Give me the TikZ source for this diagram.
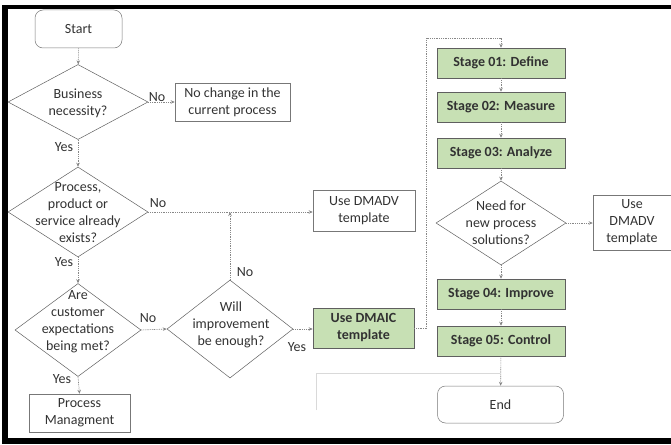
\documentclass[tikz,border=0pt]{standalone}
\usepackage{fontspec}
\setmainfont{Carlito}
\usetikzlibrary{shapes.geometric,arrows.meta}

\definecolor{stagegreen}{RGB}{199,224,180}
\definecolor{linegray}{RGB}{135,135,135}
\definecolor{edgegray}{RGB}{95,95,95}
\definecolor{textgray}{RGB}{50,50,50}

\tikzset{
  every node/.style={font=\fontsize{14}{17}\selectfont, text=textgray},
  box/.style={draw=edgegray!85, line width=0.5pt, inner sep=0pt, align=center},
  stagebox/.style={draw=edgegray, line width=0.5pt, fill=stagegreen, inner sep=0pt,
    minimum width=128pt, minimum height=30pt, font=\fontsize{14}{17}\selectfont\bfseries, align=center},
  terminal/.style={box, rounded corners=8pt},
  decision/.style={diamond, draw=edgegray, line width=0.5pt, inner sep=0pt},
  txt/.style={align=center, inner sep=0pt},
  conn/.style={draw=linegray, dash pattern=on 1pt off 0.8pt, line width=0.6pt},
  arr/.style={conn, -{Stealth[length=4pt,width=3.5pt]}},
  faint/.style={draw=black!15, line width=0.6pt},
  lbl/.style={inner sep=0pt}
}

\begin{document}
\begin{tikzpicture}[x=1pt,y=-1pt]
\useasboundingbox (0,0) rectangle (671,444);

% outer frame
\fill[black] (2,5) rectangle (8,444);
\fill[black] (2,5) rectangle (671,9);
\fill[black] (2,438) rectangle (671,444);

% left column
\node[terminal, minimum width=87pt, minimum height=38pt] (start) at (78.5,29) {Start};

\node[decision, minimum width=140pt, minimum height=75pt] (d1) at (78,102) {};
\node[txt] (d1t) at (78,103) {Business\\necessity?};
\node[box, minimum width=115pt, minimum height=38pt] (nochange) at (232.5,102) {No change in the\\current process};

\node[decision, minimum width=140pt, minimum height=90pt] (d2) at (78,212) {};
\node[txt] (d2t) at (78,213) {Process,\\product or\\service already\\exists?};
\node[box, minimum width=102pt, minimum height=41pt] (dmadv1) at (364,211) {Use DMADV\\template};

\node[decision, minimum width=126pt, minimum height=93pt] (d3) at (78,330) {};
\node[txt] (d3t) at (78,322) {Are\\customer\\expectations\\being met?};

\node[decision, minimum width=126pt, minimum height=98pt] (d4) at (230,329) {};
\node[txt] (d4t) at (231,325) {Will\\improvement\\be enough?};

\node[stagebox, minimum width=101pt, minimum height=40pt] (dmaic) at (363.5,328) {Use DMAIC\\template};

\node[box, minimum width=101pt, minimum height=38pt] (pm) at (79.5,413) {Process\\Managment};

% DMAIC stages
\node[stagebox] (define)  at (501,63)  {Stage 01: Define};
\node[stagebox] (measure) at (501,107) {Stage 02: Measure};
\node[stagebox] (analyze) at (501,153) {Stage 03: Analyze};
\node[decision, minimum width=130pt, minimum height=84pt] (d5) at (501,223) {};
\node[txt] (d5t) at (501,223) {Need for\\new process\\solutions?};
\node[box, minimum width=90pt, minimum height=55pt] (dmadv2) at (638,222.5) {};
\node[txt] (dmadv2t) at (632,222.5) {Use\\DMADV\\template};
\node[stagebox] (improve) at (501,294) {Stage 04: Improve};
\node[stagebox] (control) at (501,341) {Stage 05: Control};
\node[terminal, minimum width=126pt, minimum height=37pt] (end) at (500.5,404.5) {End};

% connectors
\draw[arr] (start) -- (d1);
\draw[arr] (d1.east) -- (nochange.west);
\draw[arr] (d1.south) -- (d2.north);
\draw[arr] (d2.east) -- (dmadv1.west |- d2.east);
\draw[arr] (d2.south) -- (d3.north);
\draw[arr] (d3.east) -- (d4.west);
\draw[arr] (d4.north) -- (d4.north |- d2.east);
\draw[arr] (d4.east) -- (dmaic.west |- d4.east);
\draw[arr] (d3.south) -- (pm.north);

\coordinate (loop) at (426,38);
\draw[arr] (dmaic.east) -| (loop) -| (define.north);
\draw[arr] (define) -- (measure);
\draw[arr] (measure) -- (analyze);
\draw[arr] (analyze) -- (d5);
\draw[arr] (d5.east) -- (dmadv2.west |- d5.east);
\draw[arr] (d5) -- (improve);
\draw[arr] (improve) -- (control);
\draw[arr] (control) -- (end);

\coordinate (f0) at (316,410);
\coordinate (f1) at (500,373);
\draw[faint] (f0) |- (f1);

% branch labels
\node[lbl] (l1n) at (157,97)  {No};
\node[lbl] (l1y) at (64,147)  {Yes};
\node[lbl] (l2n) at (158,203) {No};
\node[lbl] (l2y) at (64,262)  {Yes};
\node[lbl] (l3n) at (148,318) {No};
\node[lbl] (l3y) at (62,379)  {Yes};
\node[lbl] (l4n) at (245,272) {No};
\node[lbl] (l4y) at (297,347) {Yes};
\end{tikzpicture}
\end{document}
